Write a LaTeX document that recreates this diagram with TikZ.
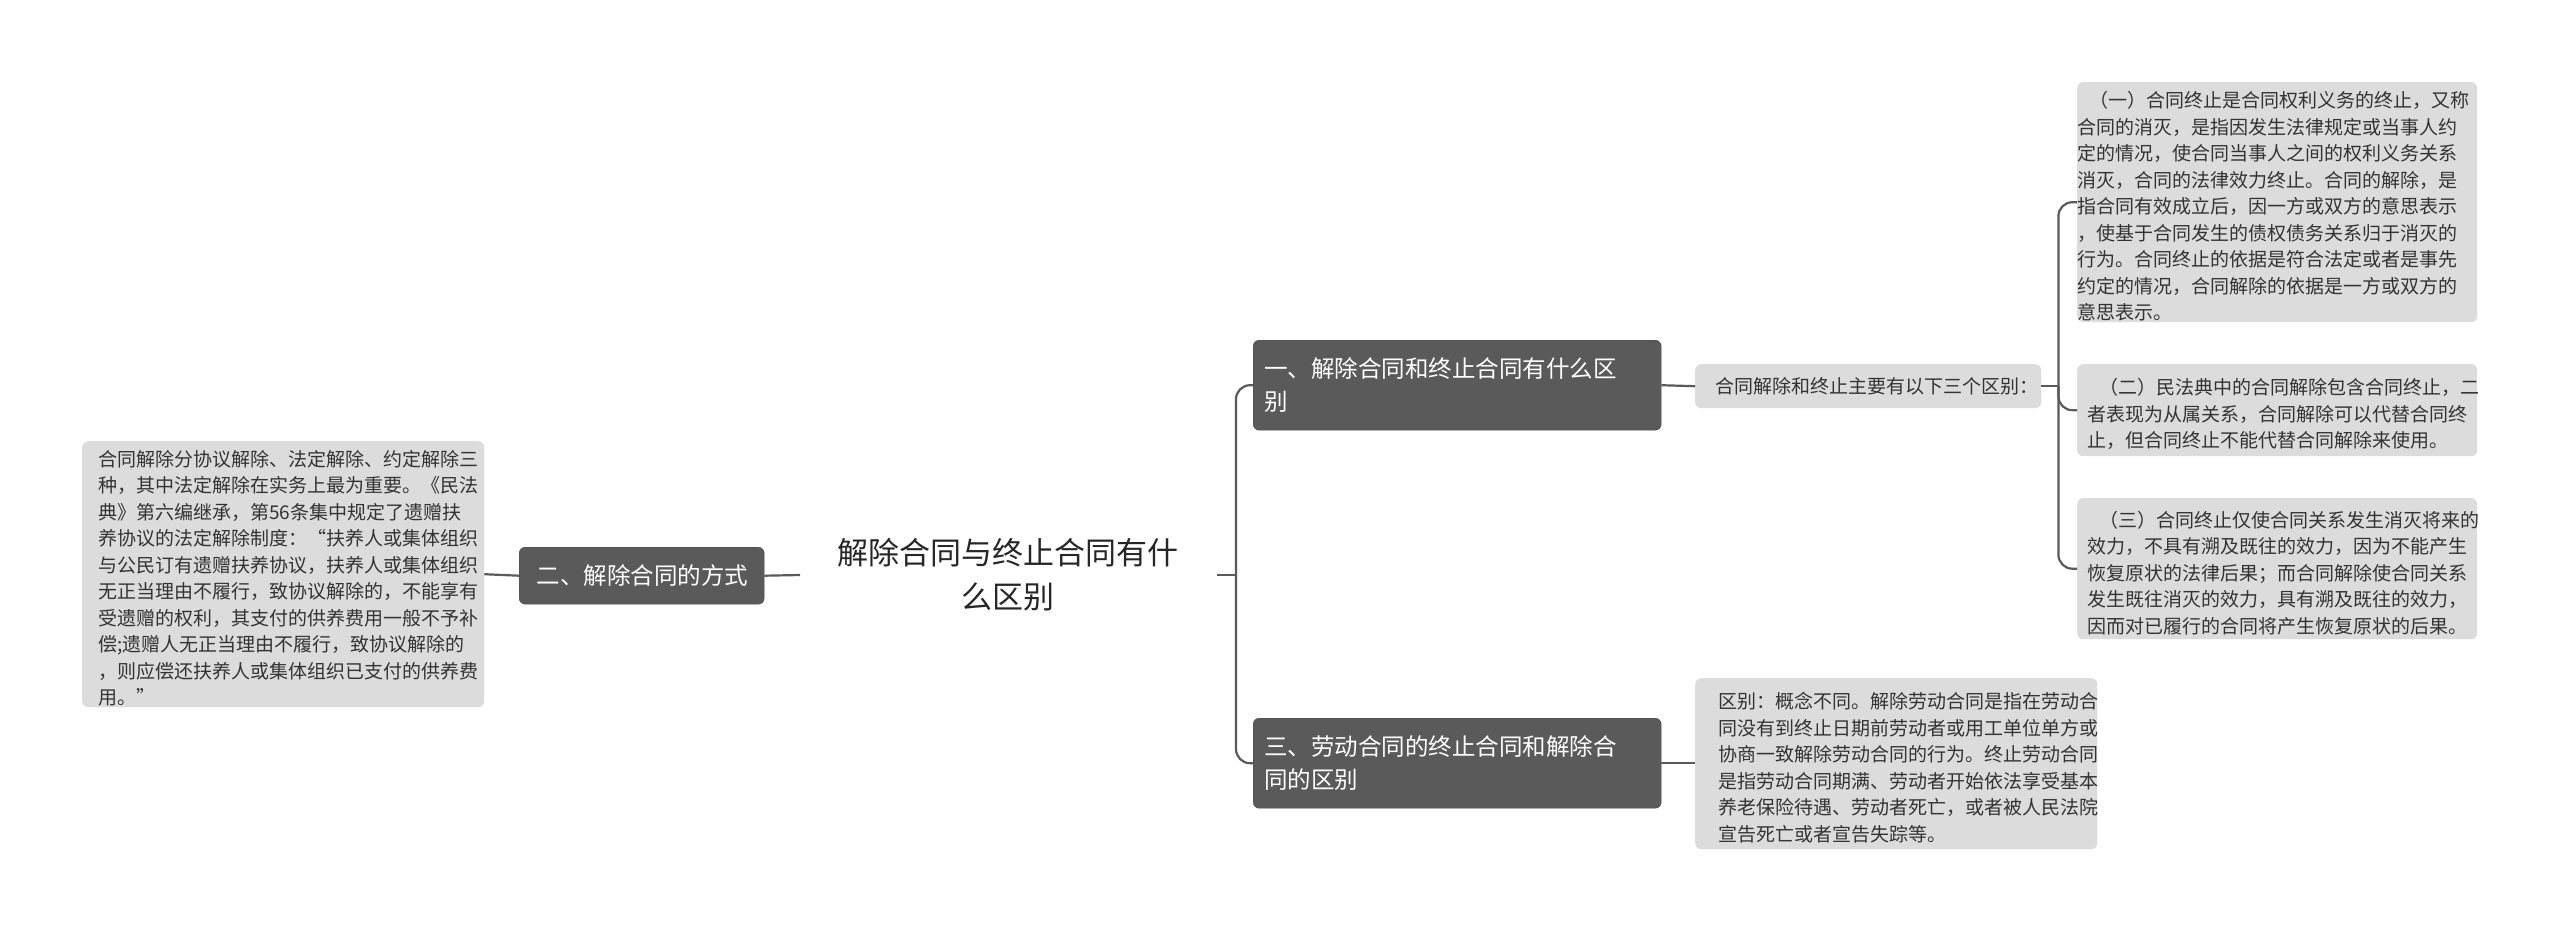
\documentclass[tikz,border=0pt]{standalone}
\usepackage{fontspec}
\setmainfont{Noto Sans CJK SC}
\begin{document}
\begin{tikzpicture}[x=1pt,y=-1pt,
  leaf/.style={fill=leafgray,rounded corners=6pt,text=black!80,font=\fontsize{19}{26.5}\selectfont,align=left,anchor=north west,inner sep=0pt},
  main/.style={fill=darkbox,draw=darkbox!80!black,rounded corners=6pt,text=white,font=\fontsize{23.5}{33}\selectfont,align=left,inner sep=0pt,anchor=north west},
  conn/.style={draw=darkbox,line width=2.2pt,rounded corners=14pt}]
\definecolor{leafgray}{HTML}{DCDCDC}
\definecolor{darkbox}{HTML}{5A5A5A}
\useasboundingbox (0,0) rectangle (2560,930);
\fill[white] (0,0) rectangle (2560,930);
% root
\node[font=\fontsize{31}{44}\selectfont,align=center,text=black!85] (root) at (1008,575) {解除合同与终止合同有什\\么区别};
\coordinate (rr) at (1217,575);
\coordinate (rl) at (800,575);
% main nodes
\node[main,minimum width=408pt,minimum height=90pt,text width=390pt] (n1) at (1253,340) {\hspace*{2pt}一、解除合同和终止合同有什么区\\\hspace*{2pt}别};
\node[main,minimum width=408pt,minimum height=90pt,text width=390pt] (n3) at (1253,718) {\hspace*{2pt}三、劳动合同的终止合同和解除合\\\hspace*{2pt}同的区别};
\node[main,minimum width=245pt,minimum height=57pt,text width=230pt] (n2) at (519,547) {\hspace*{10pt}二、解除合同的方式};
% mid
\node[leaf,minimum width=346pt,minimum height=44pt,text width=330pt] (mid) at (1695,364) {\hspace*{12pt}合同解除和终止主要有以下三个区别：};
% leaves
\node[leaf,minimum width=400pt,minimum height=240pt,text width=400pt] (l1) at (2077,82) {\begin{minipage}[t]{380pt}\vspace*{8pt}\raggedright
\hspace*{12pt}（一）合同终止是合同权利义务的终止，又称\\合同的消灭，是指因发生法律规定或当事人约\\定的情况，使合同当事人之间的权利义务关系\\消灭，合同的法律效力终止。合同的解除，是\\指合同有效成立后，因一方或双方的意思表示\\，使基于合同发生的债权债务关系归于消灭的\\行为。合同终止的依据是符合法定或者是事先\\约定的情况，合同解除的依据是一方或双方的\\意思表示。\end{minipage}};
\node[leaf,minimum width=400pt,minimum height=92pt] (l2) at (2077,364) {\begin{minipage}[t]{380pt}\vspace*{8pt}\raggedright
\hspace*{12pt}（二）民法典中的合同解除包含合同终止，二\\者表现为从属关系，合同解除可以代替合同终\\止，但合同终止不能代替合同解除来使用。\end{minipage}};
\node[leaf,minimum width=400pt,minimum height=141pt] (l3) at (2077,498) {\begin{minipage}[t]{380pt}\vspace*{8pt}\raggedright
\hspace*{12pt}（三）合同终止仅使合同关系发生消灭将来的\\效力，不具有溯及既往的效力，因为不能产生\\恢复原状的法律后果；而合同解除使合同关系\\发生既往消灭的效力，具有溯及既往的效力，\\因而对已履行的合同将产生恢复原状的后果。\end{minipage}};
\node[leaf,minimum width=402pt,minimum height=171pt] (l4) at (1695,678) {\begin{minipage}[t]{380pt}\vspace*{8pt}\raggedright
\hspace*{12pt}区别：概念不同。解除劳动合同是指在劳动合\\\hspace*{12pt}同没有到终止日期前劳动者或用工单位单方或\\\hspace*{12pt}协商一致解除劳动合同的行为。终止劳动合同\\\hspace*{12pt}是指劳动合同期满、劳动者开始依法享受基本\\\hspace*{12pt}养老保险待遇、劳动者死亡，或者被人民法院\\\hspace*{12pt}宣告死亡或者宣告失踪等。\end{minipage}};
\node[leaf,minimum width=402pt,minimum height=266pt] (l5) at (82,441) {\begin{minipage}[t]{390pt}\vspace*{8pt}\raggedright
\hspace*{10pt}合同解除分协议解除、法定解除、约定解除三\\\hspace*{10pt}种，其中法定解除在实务上最为重要。《民法\\\hspace*{10pt}典》第六编继承，第56条集中规定了遗赠扶\\\hspace*{10pt}养协议的法定解除制度：“扶养人或集体组织\\\hspace*{10pt}与公民订有遗赠扶养协议，扶养人或集体组织\\\hspace*{10pt}无正当理由不履行，致协议解除的，不能享有\\\hspace*{10pt}受遗赠的权利，其支付的供养费用一般不予补\\\hspace*{10pt}偿;遗赠人无正当理由不履行，致协议解除的\\\hspace*{10pt}，则应偿还扶养人或集体组织已支付的供养费\\\hspace*{10pt}用。”\end{minipage}};
% connectors
\draw[conn] (rr) -- ++(19,0) coordinate (b1);
\draw[conn] (b1) |- (n1.west);
\draw[conn] (b1) |- (n3.west);
\draw[conn] (rl) -- (n2.east);
\draw[conn] (n2.west) -- (l5.east);
\draw[conn] (n1.east) -- (mid.west);
\draw[conn] (n3.east) -- (n3.east -| l4.west);
\draw[conn] (mid.east) -- ++(17,0) coordinate (b2);
\draw[conn] (b2) |- (l1.west);
\draw[conn] (b2) |- (l2.west);
\draw[conn] (b2) |- (l3.west);
\end{tikzpicture}
\end{document}
